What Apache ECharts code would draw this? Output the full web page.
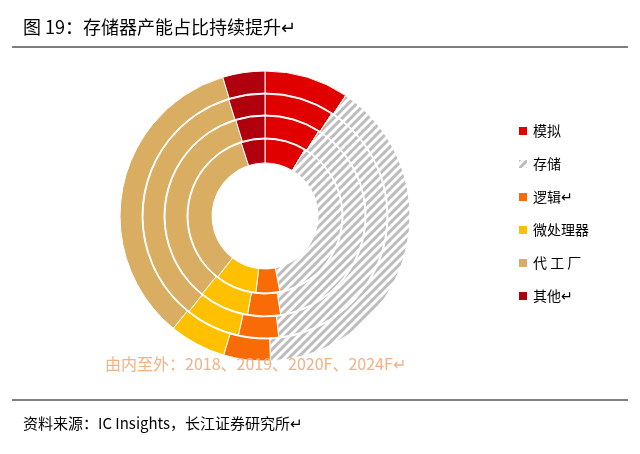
<!DOCTYPE html>
<html><head><meta charset="utf-8">
<script src="https://cdn.jsdelivr.net/npm/echarts@6/dist/echarts.min.js"></script>
<style>html,body{margin:0;padding:0;background:#fff}#c{width:640px;height:454px}</style>
</head><body><div id="c"></div>
<script>
const categories = ['模拟','存储','逻辑↵','微处理器','代 工 厂','其他↵'];
const years = ['2018','2019','2020F','2024F'];
const v2018 = [8.6, 38.3, 5.0, 8.6, 34.5, 5.0];
const v2019 = [9.0, 38.5, 5.3, 8.0, 34.5, 4.7];
const v2020 = [9.2, 39.0, 5.3, 7.2, 34.5, 4.8];
const v2024 = [9.4, 40.0, 5.2, 6.3, 34.4, 4.7];
const colors = ['#e00000','#ffffff','#f96b06','#ffc000','#d9ae62','#b0000e'];
const ringValues = [v2018, v2019, v2020, v2024];
const radii = [[53,77],[78,100],[101,122],[123,145]];
const hatch = {color:'#bdbdbd', dashArrayX:[1,0], dashArrayY:[3,3], rotation:-Math.PI/4, symbolSize:1};
const chart = echarts.init(document.getElementById('c'));
const series = ringValues.map((vals, i) => ({
  type:'pie', name: years[i], center:[265,216], radius: radii[i],
  startAngle:90, clockwise:true, silent:true, label:{show:false}, labelLine:{show:false},
  itemStyle:{borderColor:'#fff', borderWidth:1},
  data: vals.map((v,j)=>({name:categories[j], value:v,
    itemStyle: j===1 ? {color:'#fff', decal:hatch} : {color:colors[j]}}))
}));
chart.setOption({
  animation:false,
  aria:{enabled:false},
  color: colors,
  title:[
    {text:'图 19：存储器产能占比持续提升↵', left:18, top:13, textStyle:{fontSize:18, fontWeight:'normal', color:'#000', fontFamily:'Noto Sans CJK SC'}},
    {text:'由内至外：2018、2019、2020F、2024F↵', left:100, top:351, textStyle:{fontSize:16, fontWeight:'normal', color:'#f4b183', fontFamily:'Noto Sans CJK SC'}},
    {text:'资料来源：IC Insights，长江证券研究所↵', left:18, top:411, textStyle:{fontSize:15, fontWeight:'normal', color:'#000', fontFamily:'Noto Sans CJK SC'}}
  ],
  legend:{orient:'vertical', left:512, top:119, itemGap:19, itemWidth:10, itemHeight:10, icon:'rect',
    data: categories, textStyle:{fontSize:14, color:'#000', fontFamily:'Noto Sans CJK SC'}},
  graphic:[
    {type:'line', shape:{x1:12,y1:47,x2:628,y2:47}, style:{stroke:'#000', lineWidth:1}},
    {type:'line', shape:{x1:12,y1:400,x2:628,y2:400}, style:{stroke:'#000', lineWidth:1}}
  ],
  series
});
</script></body></html>
